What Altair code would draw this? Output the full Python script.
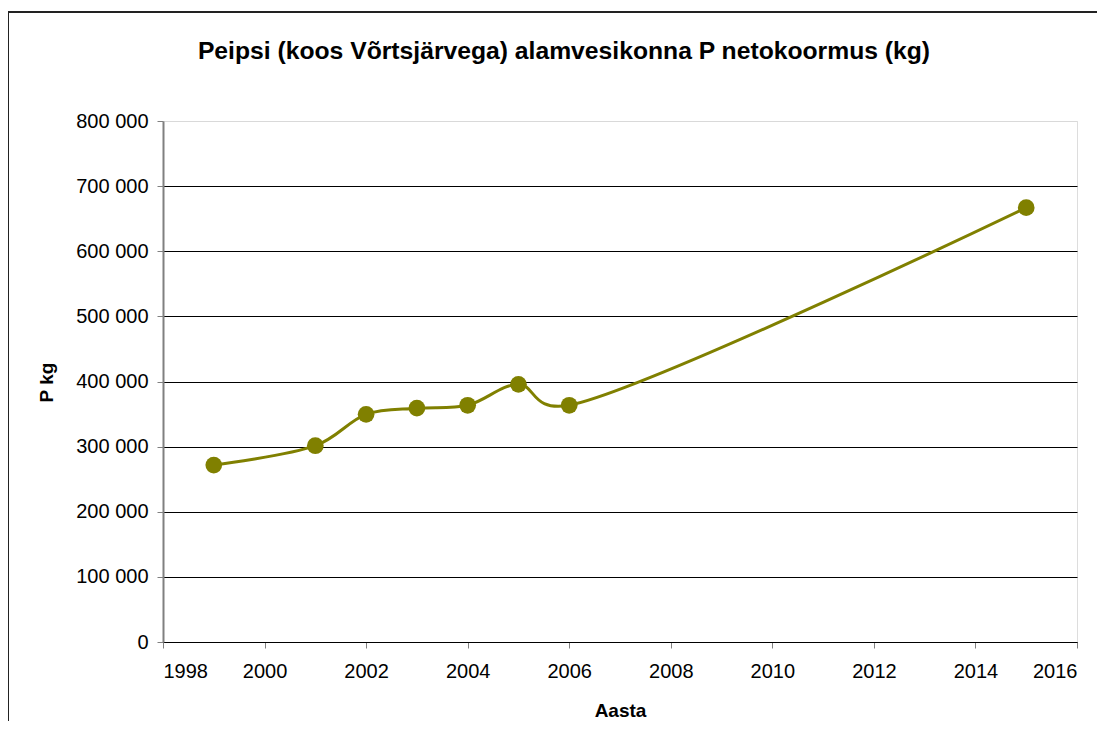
import altair as alt
import pandas as pd

years = [1999, 2001, 2002, 2003, 2004, 2005, 2006, 2015]
values = [271600, 301400, 349600, 359000, 363500, 395700, 363500, 666900]
x_ticks = list(range(1998, 2017, 2))
y_ticks = list(range(0, 800001, 100000))
title_text = "Peipsi (koos Võrtsjärvega) alamvesikonna P netokoormus (kg)"

df = pd.DataFrame({"Aasta": years, "P": values})

FONT = "Liberation Sans"
OLIVE = "#808000"

x_enc = alt.X("Aasta:Q",
              scale=alt.Scale(domain=[1998, 2016], nice=False, zero=False),
              axis=alt.Axis(values=x_ticks, format="d", title="Aasta",
                            grid=False, domainColor="black", domainWidth=1,
                            tickColor="#808080", tickSize=6, tickWidth=1,
                            labelPadding=13, labelFontSize=20, labelColor="black",
                            labelFont=FONT, titleFont=FONT, titleFontSize=19,
                            titleFontWeight="bold", titleColor="black",
                            titleY=74, titleBaseline="alphabetic"))
y_enc = alt.Y("P:Q",
              scale=alt.Scale(domain=[0, 800000], nice=False),
              axis=alt.Axis(values=y_ticks, title="P kg",
                            labelExpr="replace(format(datum.value, ','), ',', ' ')",
                            grid=True,
                            gridColor=alt.condition("datum.value == 800000",
                                                    alt.value("#d9d9d9"),
                                                    alt.value("black")),
                            gridWidth=1,
                            domainColor="#808080", domainWidth=2,
                            tickColor="#808080", tickSize=6, tickWidth=1,
                            labelPadding=9, labelFontSize=20, labelColor="black",
                            labelFont=FONT, titleFont=FONT, titleFontSize=19,
                            titleFontWeight="bold", titleColor="black",
                            titleX=-111, titleY=261, titleBaseline="alphabetic"))

base = alt.Chart(df)
line = base.mark_line(color=OLIVE, strokeWidth=3, interpolate="catmull-rom", tension=0.3).encode(x=x_enc, y=y_enc)
pts = base.mark_point(color=OLIVE, filled=True, opacity=1, size=280, shape="circle").encode(x="Aasta:Q", y="P:Q")

one = alt.Data(values=[{"t": title_text}])
top_rule = alt.Chart(one).mark_rule(color="#222222", strokeWidth=2).encode(
    x=alt.value(-155), x2=alt.value(934), y=alt.value(-109))
left_rule = alt.Chart(one).mark_rule(color="#222222", strokeWidth=2).encode(
    x=alt.value(-155), y=alt.value(-109), y2=alt.value(600))
title = alt.Chart(one).mark_text(font=FONT, fontSize=24.7, fontWeight="bold", color="black",
                                 align="center", baseline="alphabetic").encode(
    text="t:N", x=alt.value(401), y=alt.value(-62))

chart = alt.layer(top_rule, left_rule, title, line, pts).properties(
    width=914, height=521,
    autosize=alt.AutoSizeParams(type="none"),
    padding={"left": 155, "top": 113, "right": 20, "bottom": 80},
).configure_view(stroke=None).configure(background="white")

chart.save("out.html", embed_options={"renderer": "svg", "actions": False})
